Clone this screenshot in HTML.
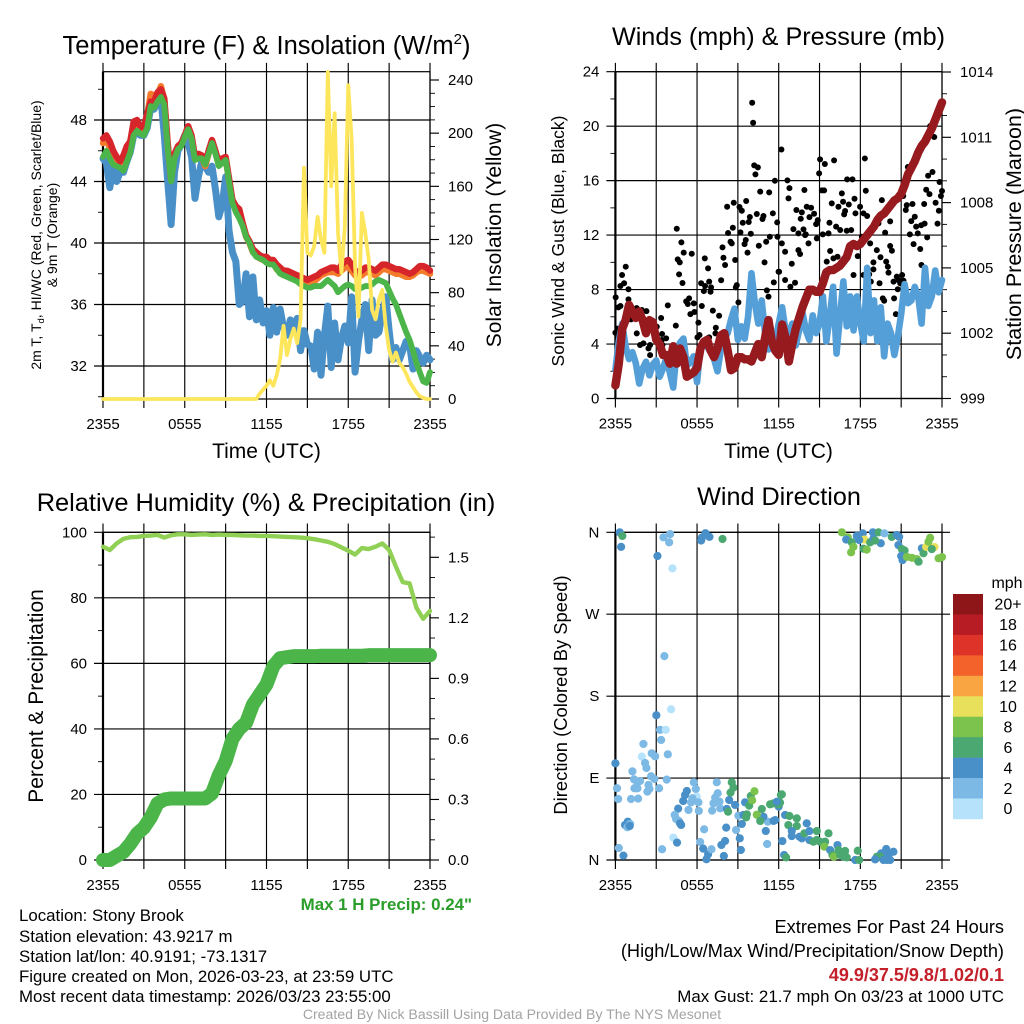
<!DOCTYPE html>
<html>
<head>
<meta charset="utf-8">
<title>Weather Station Meteogram</title>
<style>
html,body{margin:0;padding:0;background:#fff;}
svg{display:block;}
text{font-family:"Liberation Sans",sans-serif;fill:#000;}
</style>
</head>
<body>
<svg id="chart" xmlns="http://www.w3.org/2000/svg" width="1024" height="1024" viewBox="0 0 1024 1024">
  <rect x="0" y="0" width="1024" height="1024" fill="#fff"/>
  <text x="266.5" y="54" font-size="25.5" text-anchor="middle">Temperature (F) &amp; Insolation (W/m<tspan dy="-10" font-size="15">2</tspan><tspan dy="10">)</tspan></text>
  <text x="778.5" y="45" font-size="25.2" text-anchor="middle">Winds (mph) &amp; Pressure (mb)</text>
  <text x="266" y="511" font-size="25.4" text-anchor="middle">Relative Humidity (%) &amp; Precipitation (in)</text>
  <text x="779" y="505" font-size="25.2" text-anchor="middle">Wind Direction</text>

  <text x="266.5" y="458" font-size="21" text-anchor="middle">Time (UTC)</text>
  <text x="778.5" y="458" font-size="21" text-anchor="middle">Time (UTC)</text>

  <text transform="translate(41,235) rotate(-90)" font-size="14" text-anchor="middle">2m T, T<tspan dy="3" font-size="9.5">d</tspan><tspan dy="-3">, HI/WC (Red, Green, Scarlet/Blue)</tspan></text>
  <text transform="translate(57,235) rotate(-90)" font-size="14" text-anchor="middle">&amp; 9m T (Orange)</text>
  <text transform="translate(501,235) rotate(-90)" font-size="21" text-anchor="middle">Solar Insolation (Yellow)</text>
  <text transform="translate(564,241) rotate(-90)" font-size="17.5" text-anchor="middle">Sonic Wind &amp; Gust (Blue, Black)</text>
  <text transform="translate(1021,234) rotate(-90)" font-size="21.5" text-anchor="middle">Station Pressure (Maroon)</text>
  <text transform="translate(43,696) rotate(-90)" font-size="21" text-anchor="middle">Percent &amp; Precipitation</text>
  <text transform="translate(567,695) rotate(-90)" font-size="18.4" text-anchor="middle">Direction (Colored By Speed)</text>

  <text x="472" y="910" font-size="16.9" font-weight="bold" text-anchor="end" style="fill:#2a9d2a">Max 1 H Precip: 0.24"</text>
  <text x="19" y="921" font-size="16.85">Location: Stony Brook</text>
  <text x="19" y="942" font-size="16.85">Station elevation: 43.9217 m</text>
  <text x="19" y="962" font-size="16.85">Station lat/lon: 40.9191; -73.1317</text>
  <text x="19" y="982" font-size="16.85">Figure created on Mon, 2026-03-23, at 23:59 UTC</text>
  <text x="19" y="1002" font-size="16.85">Most recent data timestamp: 2026/03/23 23:55:00</text>
  <text x="1004" y="933" font-size="18.2" text-anchor="end">Extremes For Past 24 Hours</text>
  <text x="1004" y="957" font-size="18.2" text-anchor="end">(High/Low/Max Wind/Precipitation/Snow Depth)</text>
  <text x="1004" y="981" font-size="18" font-weight="bold" text-anchor="end" style="fill:#c4202a">49.9/37.5/9.8/1.02/0.1</text>
  <text x="1004" y="1002" font-size="16.9" text-anchor="end">Max Gust: 21.7 mph On 03/23 at 1000 UTC</text>
  <text x="512" y="1019" font-size="14.08" text-anchor="middle" style="fill:#a3a3a3">Created By Nick Bassill Using Data Provided By The NYS Mesonet</text>
  <text x="1007" y="588" font-size="16" text-anchor="middle">mph</text>
</svg>
<script>
// ---- shared axis data ----
const timeTickHours = [0, 6, 12, 18, 24];
const timeTickLabels = ['2355', '0555', '1155', '1755', '2355'];
const timeGridHours = [3, 9, 15, 21];

const tempTicks = [32, 36, 40, 44, 48];
const tempMinorTicks = [30, 34, 38, 42, 46, 50];
const solarTicks = [0, 40, 80, 120, 160, 200, 240];
const solarMinorTicks = [10, 20, 30, 50, 60, 70, 90, 100, 110, 130, 140, 150, 170, 180, 190, 210, 220, 230];

const windTicks = [0, 4, 8, 12, 16, 20, 24];
const windMinorTicks = [2, 6, 10, 14, 18, 22];
const pressureTicks = [999, 1002, 1005, 1008, 1011, 1014];
const pressureMinorTicks = [1000, 1001, 1003, 1004, 1006, 1007, 1009, 1010, 1012, 1013];

const humidityTicks = [0, 20, 40, 60, 80, 100];
const humidityMinorTicks = [10, 30, 50, 70, 90];
const precipTicks = [0, 0.3, 0.6, 0.9, 1.2, 1.5];
const precipTickLabels = ['0.0', '0.3', '0.6', '0.9', '1.2', '1.5'];
const precipMinorTicks = [0.1, 0.2, 0.4, 0.5, 0.7, 0.8, 1.0, 1.1, 1.3, 1.4, 1.6];

const directionTicks = [0, 90, 180, 270, 360];
const directionTickLabels = ['N', 'E', 'S', 'W', 'N'];

// ---- temperature panel series (evenly spaced over 24 h) ----
const airTemp = [46.8,47,46.6,46,45.6,45.3,45.7,46.3,46.6,47.9,48,47.5,47.6,48.4,49.2,49.2,49.8,50,49.4,46.5,44.2,45.8,46.3,46.5,47,47.6,47,45.6,45.8,45.7,45.2,46,46.7,46,45.2,45.5,45.6,44.2,42.8,42.4,42.2,41.3,40.5,40.1,39.6,39.4,39.2,39.1,39.1,38.9,38.9,38.6,38.4,38.2,38.2,38.1,38,37.9,37.8,37.7,37.6,37.7,37.8,37.9,38.1,38.2,38.3,38.4,38.4,38.2,38.6,38.8,38.9,38.6,38.2,38.1,38.2,38.4,38.4,38.3,38.2,38.4,38.6,38.6,38.5,38.4,38.3,38.3,38.2,38.1,38,38.1,38.3,38.5,38.5,38.4,38.2];
const nineMeterTemp = [46.5,46.7,46.2,45.6,45.2,45,45.5,46.1,46.6,47.6,47.8,47.3,47.4,48.3,49.7,49.6,49.6,50.2,49.3,46.3,44.1,45.7,46.2,46.4,46.9,47.5,46.9,45.5,45.6,45.6,45,45.8,46.5,45.9,45.1,45.3,45.5,44.1,42.7,42.3,42,41.2,40.4,40,39.4,39.2,39,38.9,38.9,38.7,38.7,38.3,38.1,37.9,37.9,37.8,37.7,37.7,37.6,37.5,37.4,37.4,37.5,37.7,37.9,38,38.1,38.1,38.1,38,38.2,38.4,38.5,38.2,37.9,37.8,37.9,38.1,38.1,38,37.9,38.1,38.3,38.3,38.2,38.1,38,38,37.9,37.8,37.8,37.9,38.1,38.2,38.2,38.1,38];
const heatIndex = [45.6,46,45.5,45.1,45,44.9,44.7,45.3,45.9,47,47.3,47.1,47,47.5,48.9,48.8,49.2,49.5,49,46.2,44,45.5,46.1,46.3,46.9,47.4,46.8,45.4,45.5,45.5,45.1,45.8,46.5,45.8,45,45.2,45.4,44,42.6,42,41.6,41.1,40.4,40,39.4,39.1,39,38.9,38.7,38.6,38.6,38.3,38,37.9,37.8,37.7,37.6,37.5,37.3,37.2,37.1,37.1,37.2,37.2,37.2,37.4,37.6,37.4,37.2,36.8,37,37.2,37.3,37.2,37,37,37.1,37.2,37.2,37.3,37.5,37.6,37.5,37.4,36.9,36.4,36,35.4,34.8,34.2,33.7,33,32.2,31.6,31,30.9,31.6];
const dewPoint = [45.5,45.2,43.6,45,44,44.6,44.6,45.3,45.9,47,47.2,47,47,47.5,48.8,48.7,49.2,49.4,47,44,41.2,44.6,46,46.4,47,46.5,45.6,42.9,44.3,45.3,45,44.6,45,43.5,41.7,42.5,44.3,40.8,39.4,38.8,36,36.2,38,35.2,37.8,35,36.3,34.8,35.6,34,35.8,34.2,35.7,34.5,34,35,34.4,35.1,33,34.3,33.4,33.3,31.8,34.2,31.4,34,35.9,31.9,34.8,32.4,33.8,34.6,33.5,36.5,31.6,33.6,35,36,33,36.3,34,34.2,35.5,36.5,34.3,32.4,33.2,32.4,33,33.6,33.4,31.8,33,32.6,32.2,32.7,32.4];
const solarInsolation = [0,0,0,0,0,0,0,0,0,0,0,0,0,0,0,0,0,0,0,0,0,0,0,0,0,0,0,0,0,0,0,0,0,0,0,0,0,0,0,0,0,0,0,0,0,0,4,7,10,14,10,18,30,55,33,45,53,42,60,174,110,108,115,137,120,110,246,160,215,125,95,130,236,195,100,62,140,125,105,67,60,75,82,55,37,28,35,27,24,19,13,9,5,2,1,0,0];

// ---- winds panel series ----
const sonicWind = [2.1,4.2,5.5,3.8,2.9,3.4,2.6,1.1,2.2,2.7,1.7,2.5,2.8,1.6,2.2,3,1.9,0.8,3.5,4.1,4.4,2.4,2.7,3.1,1.2,3.8,4.2,3.8,3.4,2.9,2,3.6,4.4,4.8,5.8,6.6,4.3,5.3,4.4,6,9.2,7,5.5,7.2,4.8,3.6,4.5,4.2,5.5,6.7,5,4.8,5.5,3.9,5,6.3,5,4.3,6.1,4.8,5.5,7.5,4.2,6,8.2,3.3,6,8.6,5.3,7.5,5,7.5,5.5,4.2,9.6,4.8,7.2,4.2,6.7,3.1,5.5,4.8,3.2,4.5,6.2,8.4,7,7.2,8.2,7.5,5.5,9.6,6.8,7.5,9.4,7.8,8.7];
const stationPressure = [999.6,1000.6,1002.2,1002.6,1003.3,1003,1002.7,1003,1002.6,1002,1002.6,1002.5,1001.7,1001.5,1001,1001,1000.6,1001.4,1000.6,1001.3,1000.9,1000,1000.1,1000.2,1000.4,1001.3,1001.6,1001.7,1001.2,1000.9,1001.3,1001.9,1002,1001.2,1000.3,1000.4,1000.9,1000.9,1000.8,1000.8,1000.7,1001.1,1001.5,1000.9,1001.8,1002.6,1001.6,1001.2,1001,1002.4,1001.8,1000.7,1001.5,1002.2,1002.7,1003.2,1003.6,1004,1004,1003.9,1003.9,1004.3,1004.8,1004.9,1004.9,1005,1005.1,1005.3,1005.5,1006,1006.1,1006,1006.1,1006.3,1006.5,1006.7,1006.9,1007.2,1007.4,1007.5,1007.7,1007.9,1008.1,1008.2,1008.4,1008.8,1009.3,1009.6,1009.9,1010.3,1010.6,1010.8,1011.1,1011.4,1011.8,1012.2,1012.6];
const gustHours = [10.05,10.12,10.2,10.47,10.29,11.72,10.64,11.3,8.7,9.61,8.21,9.12,9.29,10.39,10.88,10.81,11.57,9.88,9.36,9.8,11.89,8.63,4.51,8.28,9.19,9.95,12.2,
15.04,15.39,16.07,14.97,18.33,12.64,17.03,17.42,12.79,13.89,15.17,15.34,18.4,16.64,12.72,19.58,16.73,17.57,15.9,16.39,17.15,17.98,13.3,14.06,14.38,13.7,14.6,14.26,13.62,16.88,16.81,17.64,18.23,18.5,14.75,15.73,14.87,16.22,13.08,13.82,16.52,17,17.33,19.33,20.19,19.82,13.45,13.99,15.24,15.66,21.49,23.13,23.43,23.3,22.98,23.82,22.84,23.08,24,23.92,21.15,21.41,21.34,21.83,22.69,23.53,23.77,22,21.74,22.72,22.47,22.1,23.67,21.64,22.22,
4.85,8.46,8.55,9.58,9.49,5.02,5.61,10.54,11.08,11.35,11.91,7.87,9.71,7.94,6.57,8.8,4.58,4.73,0.76,8.06,10.96,0.49,4.68,4.93,11.99,7.77,6.81,11.64,0.64,0.37,0.96,6.3,6.59,6.89,7.03,6.5,6.99,8.92,8.85,11.13,11.25,0.02,0.96,9.04,5.42,5.2,5.32,5.76,6.35,3.85,0.22,0.37,1.57,1.94,2.28,5.51,5.81,7.16,7.62,3.36,1.15,6.1,4.44,7.38,3.04,0.17,0,1.57,7.35,3.43,6.89,6.03,6.18,3.73,3.41,2.06,1.81,2.55,2.43,2.55,3.46,7.45,4.22,
13.94,12.23,12.47,13.45,13.57,14.19,14.8,18.11,18.72,19.21,20.19,20.32,21.91,22.4,22.91,12.96,15.78,15.53,16.02,16.32,12.03,12.47,13.2,12.86,17.5,18.23,18.65,18.96,18.96,19.48,19.9,20.02,20.07,18.77,19.41,20.44,20.68,21.07,20.8,20.93,21.17,20.75,22.49,19.65,19.75,20.48,20.61,17.81];
const gustMph = [21.72,20.25,17.12,16.97,16.46,15.99,15.19,15.14,14.38,14.5,14.08,14.06,13.79,13.55,13.4,13.18,13.6,13.33,12.91,12.96,12.93,12.54,12.47,12.15,12.2,12.1,18.29,
17.56,17.22,17.49,16.53,17.63,16.02,16.09,16.09,15.45,15.31,15.28,15.28,15.26,15.06,14.7,14.57,14.45,14.67,14.33,14.08,14.25,14.08,13.84,14.08,14.01,13.67,13.57,13.32,13.2,13.77,13.52,13.6,13.6,13.4,12.81,12.91,13.1,12.62,12.44,12.42,12.37,12.32,12.37,12.86,13.01,12.18,12.13,12.05,12.05,12.13,17,20,19.2,16.63,16.36,15.9,15.33,15.01,15.24,14.87,14.87,14.2,13.84,14.28,14.28,14.38,13.79,13.35,13.03,12.84,12.72,12.62,12.84,12.05,12.13,
11.47,11.51,11.39,11.64,11.34,10.71,10.63,11.22,11.51,11.88,11.88,11.1,10.71,10.34,10.29,10.17,10.22,10,9.68,9.8,10,9.07,9.12,8.48,9.31,8.68,9.56,8.53,8.46,8.26,8.02,8.46,8.26,8.58,8.16,7.89,7.84,8.33,8.16,7.94,7.48,7.43,7.28,7.06,7.35,7.13,6.94,6.99,6.79,6.84,6.69,6.79,6.64,6.5,6.42,6.2,6.35,6.45,6.08,5.91,5.81,5.57,5.35,5.2,5.27,5.13,4.83,4.78,4.78,4.74,4.49,4.49,4.66,4.42,4.3,4.05,3.93,3.93,3.68,3.19,3.93,3.76,2.09,
12,11.39,10.78,10.9,10.61,11.39,11.76,11.88,11.39,10.9,11.2,10.85,11.34,10.98,11.83,9.9,10.83,10.05,10.29,10.41,9.31,8.7,8.5,8.21,9.07,9.07,9.12,10,9.48,10.37,10.05,9.68,9.24,8.58,8.46,8.58,8.95,9.07,8.7,8.46,8.65,8.02,9.8,7.35,7.18,7.35,6.2,10.46];

// ---- humidity panel series (half-hourly) ----
const relativeHumidity = [95.6,94.6,96.6,98,98.5,98.6,98.9,99,99.2,98.4,99.1,99.4,99.4,99.2,99.3,99.4,99.2,99.3,99.2,99.2,99.1,99,99,98.9,98.9,98.8,98.7,98.6,98.5,98.4,98.2,97.9,97.5,97.1,96.4,95.4,94.4,93.2,95.2,94.9,95.6,96.6,94.6,89.5,84.8,84.4,77,73.6,76];
const precipitation = [0,0,0.02,0.04,0.08,0.13,0.16,0.21,0.28,0.3,0.305,0.305,0.305,0.305,0.305,0.305,0.33,0.42,0.49,0.6,0.65,0.68,0.77,0.82,0.87,0.96,1,1.005,1.01,1.01,1.01,1.01,1.012,1.012,1.012,1.012,1.012,1.012,1.012,1.015,1.015,1.015,1.015,1.015,1.015,1.015,1.015,1.015,1.015];

// ---- wind direction scatter ----
const directionHours = [0.32,0.51,0.42,3.09,3.53,4.02,3.95,4.19,3.6,6.62,6.35,6.91,6.3,7.87,
4.09,3.01,3.28,3.7,3.36,2.06,2.67,1.94,2.92,3.85,2.18,0,2.28,1.25,2.62,2.87,3.77,1.37,1.81,1.62,2.43,0.12,1.4,1.62,3.21,2.5,2.35,0.2,1.15,1.67,0.91,0.71,1.08,0.88,1.05,0.25,0.59,3.43,4.26,4.53,4.61,4.36,4.46,4.66,4.83,4.75,4.98,5.12,5.25,5.76,5.91,5.98,5.66,5.56,5.37,6.1,6.13,6.52,6.23,6.45,6.81,6.69,7.06,7.45,7.52,7.33,7.21,7.65,7.11,7.7,8.36,8.19,8.8,9.53,8.14,8.87,8.06,7.79,7.97,9.14,9.22,9.04,9.29,9.41,11.05,11.15,11.2,11.62,10.88,12,8.55,8.68,8.46,8.28,9.66,9.61,9.83,9.95,10.22,10.05,10.39,10.64,10.76,11.37,11.62,12,12.16,
12.23,12.1,11.86,11.74,12.47,12.79,13.33,12.71,13.33,12.96,12.96,13.53,13.7,14.06,13.89,14.26,14.26,14.55,14.8,14.8,15.04,15.41,15.66,15.36,15.78,16.32,15.95,16.05,16.39,16.52,16.88,16.76,17,17.81,17.62,17.91,12.4,12.54,12.27,19.21,19.53,19.46,19.9,20.43,20.07,20.19,19.7,19.09,19.95,
16.64,17.08,16.96,17.37,17.49,17.32,17.74,18.18,18.3,17.91,18.23,18.47,18.72,18.96,18.92,19.33,19.77,19.5,19.09,20.31,20.68,20.85,20.8,21.05,21.25,21,21.1,21.42,21.79,22.15,22.28,22.52,22.64,22.84,23.13,23.01,23.45,23.25,23.75,24];
const directionDegrees = [360,356,344,334,354.5,358,349,320.4,224,359,354,355,351,352.6,
165.6,159,143,143,131.9,127.5,117.2,113.6,113.9,116.1,106.6,106.2,101.1,97.4,92,89,88.3,88.6,86.8,85.4,82.4,78.8,78.8,78.8,78.8,78,75.1,67,67,67.4,42.1,38.5,39.6,36,37.4,13.2,4.8,11.8,24.6,19.1,56.4,49.5,45.1,42.9,38.5,40.3,64.8,71.4,75.8,85.4,78,69.6,67.8,63.4,55,63.4,53.9,33.7,19.8,12.5,6.3,0.8,11.8,85.4,73.3,68.5,62.3,64.1,54.2,56.8,65.9,56,60.5,63.4,35.6,33,20.9,16.5,4.4,23.8,11,48.7,39.6,49.5,31.9,17.6,42.1,42.9,47.6,58.6,85.4,79.5,74,53.1,50.2,46.9,59.7,70.3,75.5,65.6,49.8,42.9,56,61.2,62.3,61.2,71.4,
72.1,63,64,43.9,49.4,48.3,45.7,38.4,37.3,31.8,26.3,25.6,23.8,40.3,29.3,31.8,21.9,20.1,31.8,22,20.1,20.1,29.3,14.6,10.9,16.4,5.5,3.6,10.9,5.5,9.9,3.6,2.9,10.2,0,0,5.5,2.9,20.8,3.6,7.3,3.6,12.1,9.1,5.5,0,0,0.7,0,
360,354.5,352,349,344,338,356,358.8,352,351.5,342,341,349,353,360,360,358.8,348,351,355,357,355,346,341.6,340,334,329.5,333,332,330.6,327.7,342.4,337,344,354,349.7,343.8,341.6,331.4,332.8];
const directionSpeeds = [4,6,4,4,2,2,2,0,2,4,4,4,4,6,
0,4,2,0,2,2,2,0,2,2,2,4,2,2,2,2,2,2,2,2,2,2,2,2,2,2,2,2,2,2,4,4,2,2,4,2,4,2,0,4,4,2,2,2,4,4,4,4,4,2,2,0,2,2,2,2,2,2,2,4,4,4,2,2,2,2,2,2,2,2,4,4,4,4,4,2,4,4,4,4,4,2,4,4,4,2,2,4,4,4,6,6,6,6,6,6,6,6,8,8,8,6,6,6,6,6,6,
6,6,4,4,4,6,6,6,6,4,4,4,4,4,6,4,4,6,6,6,6,6,6,8,4,4,6,8,6,6,6,6,6,6,4,6,4,6,4,6,4,6,4,4,4,4,4,4,4,
8,8,4,6,8,8,4,4,10,4,6,8,6,4,4,6,2,4,6,6,4,4,4,6,6,4,4,8,8,8,6,4,6,10,8,8,10,6,8,8];

// ---- colour legend ----
const legendLabels = ['20+', '18', '16', '14', '12', '10', '8', '6', '4', '2', '0'];
const legendColors = ['#8e1518', '#b71b24', '#dd3329', '#f3622a', '#f9a642', '#e8df5a', '#7cc34e', '#4aa870', '#4a90c8', '#7cb9e4', '#b6e3fb'];

// ---- drawing helpers ----
const SVG_NS = 'http://www.w3.org/2000/svg';
const svg = document.getElementById('chart');
function make(tag, attrs, parent) {
  const el = document.createElementNS(SVG_NS, tag);
  for (const k in attrs) el.setAttribute(k, attrs[k]);
  (parent || svg).appendChild(el);
  return el;
}
function linear(d0, d1, r0, r1) {
  return function (v) { return r0 + (v - d0) / (d1 - d0) * (r1 - r0); };
}
function seriesPath(values, xFn, yFn) {
  let d = '';
  const n = values.length;
  for (let i = 0; i < n; i++) {
    d += (i ? 'L' : 'M') + xFn(i * 24 / (n - 1)).toFixed(2) + ' ' + yFn(values[i]).toFixed(2);
  }
  return d;
}
function drawLine(values, xFn, yFn, color, width, name, parent) {
  const el = make('path', { d: seriesPath(values, xFn, yFn), fill: 'none', stroke: color, 'stroke-width': width, 'stroke-linejoin': 'round', 'stroke-linecap': 'round' }, parent);
  
  
  return el;
}
function drawFrame(p) {
  const g = make('g', {});
  
  
  const sw = 1.15;
  timeTickHours.concat(timeGridHours).forEach(function (h) {
    const x = p.x(h);
    const ln = make('line', { x1: x, x2: x, y1: p.top - 8.8, y2: p.bottom + 9, stroke: '#000', 'stroke-width': sw }, g);
    
    
  });
  p.leftTicks.forEach(function (v) {
    const y = p.yLeft(v);
    const ln = make('line', { x1: p.left - 9, x2: p.gridRight, y1: y, y2: y, stroke: '#000', 'stroke-width': sw }, g);
    
    
  });
  (p.leftMinor || []).forEach(function (v) {
    const y = p.yLeft(v);
    const ln = make('line', { x1: p.left - 5, x2: p.left, y1: y, y2: y, stroke: '#000', 'stroke-width': 0.9 }, g);
    
    
  });
  (p.rightTicks || []).forEach(function (v) {
    const y = p.yRight(v);
    const ln = make('line', { x1: p.right, x2: p.right + 9, y1: y, y2: y, stroke: '#000', 'stroke-width': sw }, g);
    
    
  });
  (p.rightMinor || []).forEach(function (v) {
    const y = p.yRight(v);
    const ln = make('line', { x1: p.right, x2: p.right + 5, y1: y, y2: y, stroke: '#000', 'stroke-width': 0.9 }, g);
    
    
  });
  const spine = make('rect', { x: p.left, y: p.top, width: p.right - p.left, height: p.bottom - p.top, fill: 'none', stroke: '#000', 'stroke-width': 1.2 }, g);
  
  
  const thick = make('line', { x1: p.left, x2: p.left, y1: p.top, y2: p.bottom, stroke: '#000', 'stroke-width': 2.2 }, g);
  
  
}
function drawLabels(p) {
  timeTickHours.forEach(function (h, i) {
    const t = make('text', { x: p.x(h), y: p.bottom + 30, 'font-size': 15, 'text-anchor': 'middle' });
    t.textContent = timeTickLabels[i];
    
    
  });
  p.leftTicks.forEach(function (v, i) {
    const t = make('text', { x: p.left - 16, y: p.yLeft(v) + 5, 'font-size': 15, 'text-anchor': 'end' });
    t.textContent = p.leftLabels ? p.leftLabels[i] : String(v);
    
    
  });
  (p.rightTicks || []).forEach(function (v, i) {
    const t = make('text', { x: p.right + 18, y: p.yRight(v) + 5, 'font-size': 15, 'text-anchor': 'start' });
    t.textContent = p.rightLabels ? p.rightLabels[i] : String(v);
    
    
  });
}

// ---- panel 1: temperature & insolation ----
const tempPanel = {
  name: 'temperature-panel', left: 103, right: 430, top: 71.7, bottom: 399, gridRight: 430,
  x: linear(0, 24, 103, 430),
  yLeft: linear(48, 32, 120, 366),
  yRight: linear(0, 240, 399, 80),
  leftTicks: tempTicks, leftMinor: tempMinorTicks,
  rightTicks: solarTicks, rightMinor: solarMinorTicks
};
drawFrame(tempPanel);
drawLine(dewPoint, tempPanel.x, tempPanel.yLeft, '#4a90c8', 7, 'dew-point-line');
drawLine(nineMeterTemp, tempPanel.x, tempPanel.yLeft, '#f47b2c', 6.4, 'nine-meter-temperature-line');
drawLine(airTemp, tempPanel.x, tempPanel.yLeft, '#d7262b', 6.4, 'air-temperature-line');
drawLine(heatIndex, tempPanel.x, tempPanel.yLeft, '#4bb549', 5.8, 'heat-index-line');
drawLine(solarInsolation, tempPanel.x, tempPanel.yRight, '#fde65c', 3.8, 'solar-insolation-line');
drawLabels(tempPanel);

// ---- panel 2: winds & pressure ----
const windPanel = {
  name: 'winds-panel', left: 615.4, right: 942, top: 71.7, bottom: 398.5, gridRight: 942,
  x: linear(0, 24, 615.4, 942),
  yLeft: linear(0, 24, 398.5, 71.7),
  yRight: linear(999, 1014, 398.5, 72),
  leftTicks: windTicks, leftMinor: windMinorTicks,
  rightTicks: pressureTicks, rightMinor: pressureMinorTicks
};
drawFrame(windPanel);
gustHours.forEach(function (h, i) {
  const c = make('circle', { cx: windPanel.x(h), cy: windPanel.yLeft(gustMph[i]), r: 3, fill: '#000' });
  
  
});
drawLine(sonicWind, windPanel.x, windPanel.yLeft, '#559fd8', 6.6, 'sonic-wind-line');
drawLine(stationPressure, windPanel.x, windPanel.yRight, '#961a1e', 8.4, 'station-pressure-line');
drawLabels(windPanel);

// ---- panel 3: humidity & precipitation ----
const humidityPanel = {
  name: 'humidity-panel', left: 103, right: 430, top: 532.3, bottom: 860, gridRight: 430,
  x: linear(0, 24, 103, 430),
  yLeft: linear(0, 100, 860, 532.3),
  yRight: linear(0, 1.5, 860, 557.3),
  leftTicks: humidityTicks, leftMinor: humidityMinorTicks,
  rightTicks: precipTicks, rightMinor: precipMinorTicks, rightLabels: precipTickLabels
};
drawFrame(humidityPanel);
drawLine(relativeHumidity, humidityPanel.x, humidityPanel.yLeft, '#8fd055', 4.4, 'relative-humidity-line');
drawLine(precipitation, humidityPanel.x, humidityPanel.yRight, '#4bb549', 14, 'precipitation-line');
drawLabels(humidityPanel);

// ---- panel 4: wind direction ----
const directionPanel = {
  name: 'direction-panel', left: 615.4, right: 942, top: 532.3, bottom: 860, gridRight: 950,
  x: linear(0, 24, 615.4, 942),
  yLeft: linear(0, 360, 860, 532.3),
  leftTicks: directionTicks, leftLabels: directionTickLabels
};
drawFrame(directionPanel);
function speedColor(speed) {
  const bin = Math.min(10, Math.max(0, Math.round(speed / 2)));
  return legendColors[10 - bin];
}
directionHours.forEach(function (h, i) {
  const c = make('circle', { cx: directionPanel.x(h), cy: directionPanel.yLeft(directionDegrees[i]), r: 4.1, fill: speedColor(directionSpeeds[i]) });
  
  
});
drawLabels(directionPanel);

// ---- legend ----
const legendTop = 594;
const legendBoxHeight = 20.45;
legendLabels.forEach(function (label, i) {
  const r = make('rect', { x: 953, y: legendTop + i * legendBoxHeight, width: 30, height: legendBoxHeight + 0.3, fill: legendColors[i] });
  
  
  const t = make('text', { x: 1008, y: legendTop + (i + 0.5) * legendBoxHeight + 5.5, 'font-size': 16, 'text-anchor': 'middle' });
  t.textContent = label;
  
  
});
</script>
</body>
</html>
